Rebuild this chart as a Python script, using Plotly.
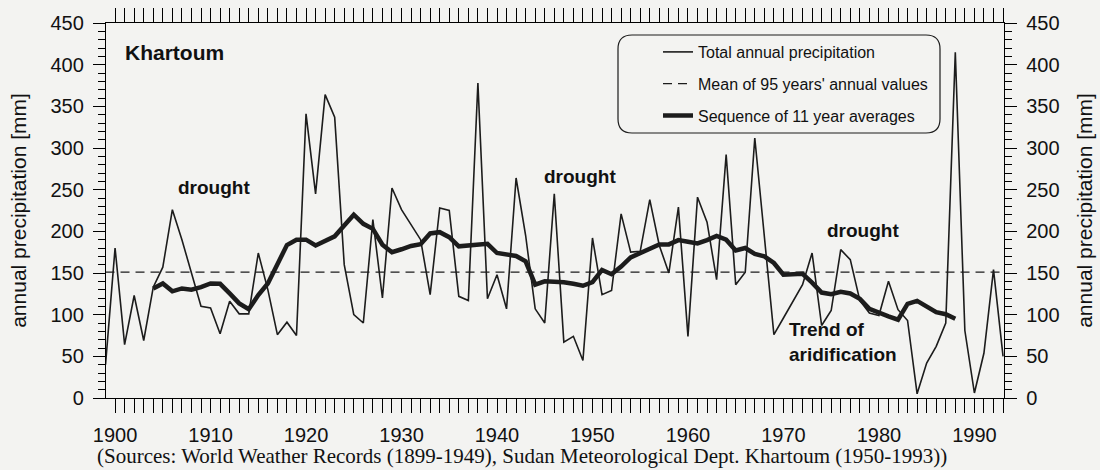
import plotly.graph_objects as go

# ---- data ----
years = list(range(1899, 1994))
total_precip = [
    40, 180, 64, 123, 69, 133, 157, 226, 190, 150,      # 1899-1908
    110, 108, 77, 116, 101, 101, 174, 130, 76, 91,      # 1909-1918
    75, 341, 245, 364, 337, 160, 100, 90, 214, 120,     # 1919-1928
    252, 226, 208, 190, 124, 228, 225, 122, 117, 378,   # 1929-1938
    119, 148, 107, 264, 195, 107, 90, 245, 67, 74,      # 1939-1948
    45, 192, 124, 129, 221, 175, 176, 238, 183, 150,    # 1949-1958
    229, 74, 241, 211, 142, 292, 136, 151, 312, 195,    # 1959-1968
    76, 96, 116, 136, 174, 87, 105, 178, 166, 117,      # 1969-1978
    102, 99, 140, 106, 93, 5, 42, 62, 90, 415,          # 1979-1988
    81, 6, 54, 154, 50                                  # 1989-1993
]

avg_years = list(range(1904, 1989))
avg11 = [
    131.5, 137.5, 128, 131.5, 130, 133, 137.5, 137, 125.5, 113.5,   # 1904-1913
    106.5, 123.5, 137.5, 161.5, 183.5, 190, 190, 183, 188, 194,     # 1914-1923
    207, 220, 209, 203, 184, 175, 178.5, 182.5, 184.5, 197.5,       # 1924-1933
    199, 193, 182, 183, 185, 185, 174, 172, 170.5, 164,             # 1934-1943
    136, 140, 140, 139, 137, 134.7, 139, 153.7, 148.5, 157.7,       # 1944-1953
    168.7, 174, 179.5, 184.3, 184.3, 189.5, 187.5, 185.5, 189.5, 194.5,  # 1954-1963
    190, 177, 180, 173, 170, 162, 148, 149, 149, 138.5,             # 1964-1973
    126.5, 124.5, 127.5, 125.5, 119, 107, 102, 98, 94, 113,         # 1974-1983
    116.5, 110.5, 103, 100.5, 95                                    # 1984-1988
]

mean_value = 151
mean_years = [1899, 1993]

x_tick_labels = ["1900", "1910", "1920", "1930", "1940", "1950", "1960", "1970", "1980", "1990"]
x_tick_vals = [1900, 1910, 1920, 1930, 1940, 1950, 1960, 1970, 1980, 1990]

# ---- styling ----
INK = "#1c1c1c"
BG = "#f3f3f1"
SANS = "Arial, Liberation Sans, sans-serif"
SERIF = "Times New Roman, Liberation Serif, serif"

fig = go.Figure()
fig.add_trace(go.Scatter(
    x=years, y=total_precip, mode="lines", name="Total annual precipitation",
    legendgroup="a", line=dict(color=INK, width=1.6)))
fig.add_trace(go.Scatter(
    x=mean_years, y=[mean_value] * len(mean_years), mode="lines",
    name="Mean of 95 years' annual values", legendgroup="b", yaxis="y2",
    line=dict(color=INK, width=1.2, dash="9px,6px")))
fig.add_trace(go.Scatter(
    x=avg_years, y=avg11, mode="lines", name="Sequence of 11 year averages",
    legendgroup="c", line=dict(color=INK, width=4.5)))

L, R, T, B = 106, 96, 23, 72
W, H = 1100, 470
pw, ph = W - L - R, H - T - B


def px(X):
    return (X - L) / pw


def py(Y):
    return (H - B - Y) / ph


axis_common = dict(
    showline=True, linecolor="black", linewidth=1.3, showgrid=False, zeroline=False,
    ticks="outside", tickcolor="black", tickwidth=1.3, automargin=False,
    tickfont=dict(family=SANS, size=20, color="#111"),
)

ytitle = dict(text="annual precipitation [mm]", font=dict(family=SANS, size=21, color="#111"), standoff=18)

fig.update_layout(
    width=W, height=H, autosize=False,
    margin=dict(l=L, r=R, t=T, b=B, autoexpand=False),
    paper_bgcolor=BG, plot_bgcolor=BG,
    xaxis=dict(
        range=[1899.05, 1993.1], tickmode="array", tickvals=x_tick_vals, ticktext=x_tick_labels,
        ticklen=14, mirror="allticks", ticklabelstandoff=5,
        minor=dict(dtick=1, tick0=1900, ticks="outside", ticklen=7, tickwidth=1, tickcolor="black", showgrid=False),
        **axis_common),
    yaxis=dict(
        range=[0, 450], tickmode="linear", tick0=0, dtick=50, ticklen=12, ticklabelstandoff=5,
        minor=dict(dtick=10, tick0=0, ticks="outside", ticklen=7, tickwidth=1, tickcolor="black", showgrid=False),
        title=ytitle, **axis_common),
    yaxis2=dict(
        range=[0, 450], overlaying="y", side="right", anchor="x",
        tickmode="linear", tick0=0, dtick=50, ticklen=12, ticklabelstandoff=5,
        minor=dict(dtick=10, tick0=0, ticks="outside", ticklen=7, tickwidth=1, tickcolor="black", showgrid=False),
        title=ytitle, **axis_common),
    showlegend=True,
    legend=dict(
        x=px(658), y=py(35), xanchor="left", yanchor="top",
        bgcolor="rgba(0,0,0,0)", borderwidth=0,
        font=dict(family=SANS, size=16, color="#111"),
        traceorder="grouped", tracegroupgap=8,
    ),
)

# rounded legend frame
x0, x1, y0, y1, r = 618, 940, 35, 133, 14
path = (
    f"M {px(x0 + r)},{py(y0)} L {px(x1 - r)},{py(y0)} Q {px(x1)},{py(y0)} {px(x1)},{py(y0 + r)} "
    f"L {px(x1)},{py(y1 - r)} Q {px(x1)},{py(y1)} {px(x1 - r)},{py(y1)} "
    f"L {px(x0 + r)},{py(y1)} Q {px(x0)},{py(y1)} {px(x0)},{py(y1 - r)} "
    f"L {px(x0)},{py(y0 + r)} Q {px(x0)},{py(y0)} {px(x0 + r)},{py(y0)} Z"
)
fig.add_shape(type="path", path=path, xref="paper", yref="paper",
              line=dict(color=INK, width=1.2), fillcolor="rgba(0,0,0,0)")

bold = dict(family=SANS, size=19, color="#111")
fig.add_annotation(x=px(123), y=py(52), xref="paper", yref="paper", xanchor="left", yanchor="middle",
                   text="<b>Khartoum</b>", showarrow=False, font=dict(family=SANS, size=21, color="#111"))
fig.add_annotation(x=px(176), y=py(187), xref="paper", yref="paper", text="<b>drought</b>",
                   showarrow=False, font=bold)
fig.add_annotation(x=px(580), y=py(176), xref="paper", yref="paper", text="<b>drought</b>",
                   showarrow=False, font=bold)
fig.add_annotation(x=px(901), y=py(230), xref="paper", yref="paper", text="<b>drought</b>",
                   showarrow=False, font=bold)
fig.add_annotation(x=px(787), y=py(367), xref="paper", yref="paper", xanchor="left", align="left",
                   text="<b>Trend of<br>aridification</b>", showarrow=False, font=bold)
fig.add_annotation(x=px(522), y=py(456), xref="paper", yref="paper", yanchor="middle",
                   text="(Sources: World Weather Records (1899-1949), Sudan Meteorological Dept. Khartoum (1950-1993))",
                   showarrow=False, font=dict(family=SERIF, size=21, color="#111"))

fig.write_html("out.html", config={"displayModeBar": False},
               post_script="document.body.style.margin='0';")
